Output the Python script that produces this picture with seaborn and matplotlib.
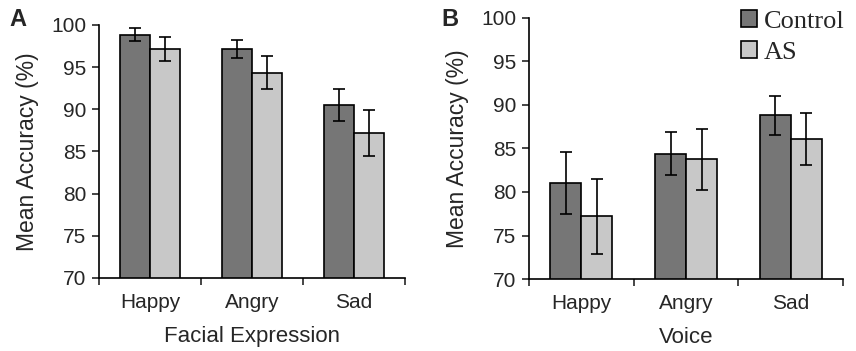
import numpy as np
import pandas as pd
import matplotlib
matplotlib.use("Agg")
import matplotlib.pyplot as plt
import seaborn as sns

emotions = ["Happy", "Angry", "Sad"]
groups = ["Control", "AS"]

# panel A: facial expression
face_control = [98.85, 97.15, 90.5]
face_as = [97.15, 94.35, 87.2]
face_control_err = [0.75, 1.1, 1.85]
face_as_err = [1.45, 2.0, 2.7]

# panel B: voice
voice_control = [81.0, 84.4, 88.8]
voice_as = [77.2, 83.75, 86.05]
voice_control_err = [3.55, 2.5, 2.2]
voice_as_err = [4.3, 3.5, 3.0]

yticks = [70, 75, 80, 85, 90, 95, 100]
colors = {"Control": "#767676", "AS": "#c8c8c8"}

sns.set_theme(style="ticks")
plt.rcParams["font.family"] = ["Liberation Sans", "DejaVu Sans"]


def make_df(ctrl, as_, ctrl_err, as_err):
    return pd.DataFrame({
        "emotion": emotions * 2,
        "group": ["Control"] * 3 + ["AS"] * 3,
        "acc": ctrl + as_,
        "err": ctrl_err + as_err,
    })


def draw(ax, df, xlabel):
    sns.barplot(data=df, x="emotion", y="acc", hue="group", order=emotions,
                hue_order=groups, palette=colors, width=0.59, errorbar=None,
                edgecolor="black", linewidth=1.2, saturation=1, ax=ax)
    # error bars, placed on the bar centres
    for patches, g in zip(ax.containers, groups):
        sub = df[df["group"] == g].set_index("emotion").loc[emotions]
        xs = [p.get_x() + p.get_width() / 2 for p in patches]
        ax.errorbar(xs, sub["acc"], yerr=sub["err"], fmt="none",
                    ecolor="black", elinewidth=1.2, capsize=4, capthick=1.2)
    ax.set_ylim(70, 100)
    ax.set_yticks(yticks)
    ax.set_xlim(-0.5, 2.5)
    ax.set_xticks([-0.5, 0.5, 1.5, 2.5], minor=True)
    ax.tick_params(axis="x", which="major", length=0, pad=11, labelsize=15)
    ax.tick_params(axis="x", which="minor", length=5, width=1.2, direction="out")
    ax.tick_params(axis="y", length=5, width=1.2, labelsize=15, pad=4)
    ax.set_xlabel(xlabel, fontsize=16, labelpad=10)
    ax.set_ylabel("Mean Accuracy (%)", fontsize=16.5, labelpad=9)
    sns.despine(ax=ax)
    for s in ["left", "bottom"]:
        ax.spines[s].set_linewidth(1.2)
        ax.spines[s].set_color("black")


fig = plt.figure(figsize=(8.56, 3.51), dpi=100)
ax1 = fig.add_axes([0.1157, 0.208, 0.357, 0.721])
ax2 = fig.add_axes([0.618, 0.205, 0.367, 0.744])

draw(ax1, make_df(face_control, face_as, face_control_err, face_as_err), "Facial Expression")
draw(ax2, make_df(voice_control, voice_as, voice_control_err, voice_as_err), "Voice")

ax1.get_legend().remove()
leg = ax2.legend(loc="upper right", bbox_to_anchor=(1.08, 1.12), frameon=False,
                 handlelength=0.6, handleheight=0.6, handletextpad=0.25,
                 prop={"family": "Liberation Serif", "size": 19}, labelspacing=0.3)

fig.text(0.011, 0.925, "A", fontsize=17, fontweight="bold")
fig.text(0.516, 0.925, "B", fontsize=17, fontweight="bold")

fig.savefig("out.png", dpi=100)
